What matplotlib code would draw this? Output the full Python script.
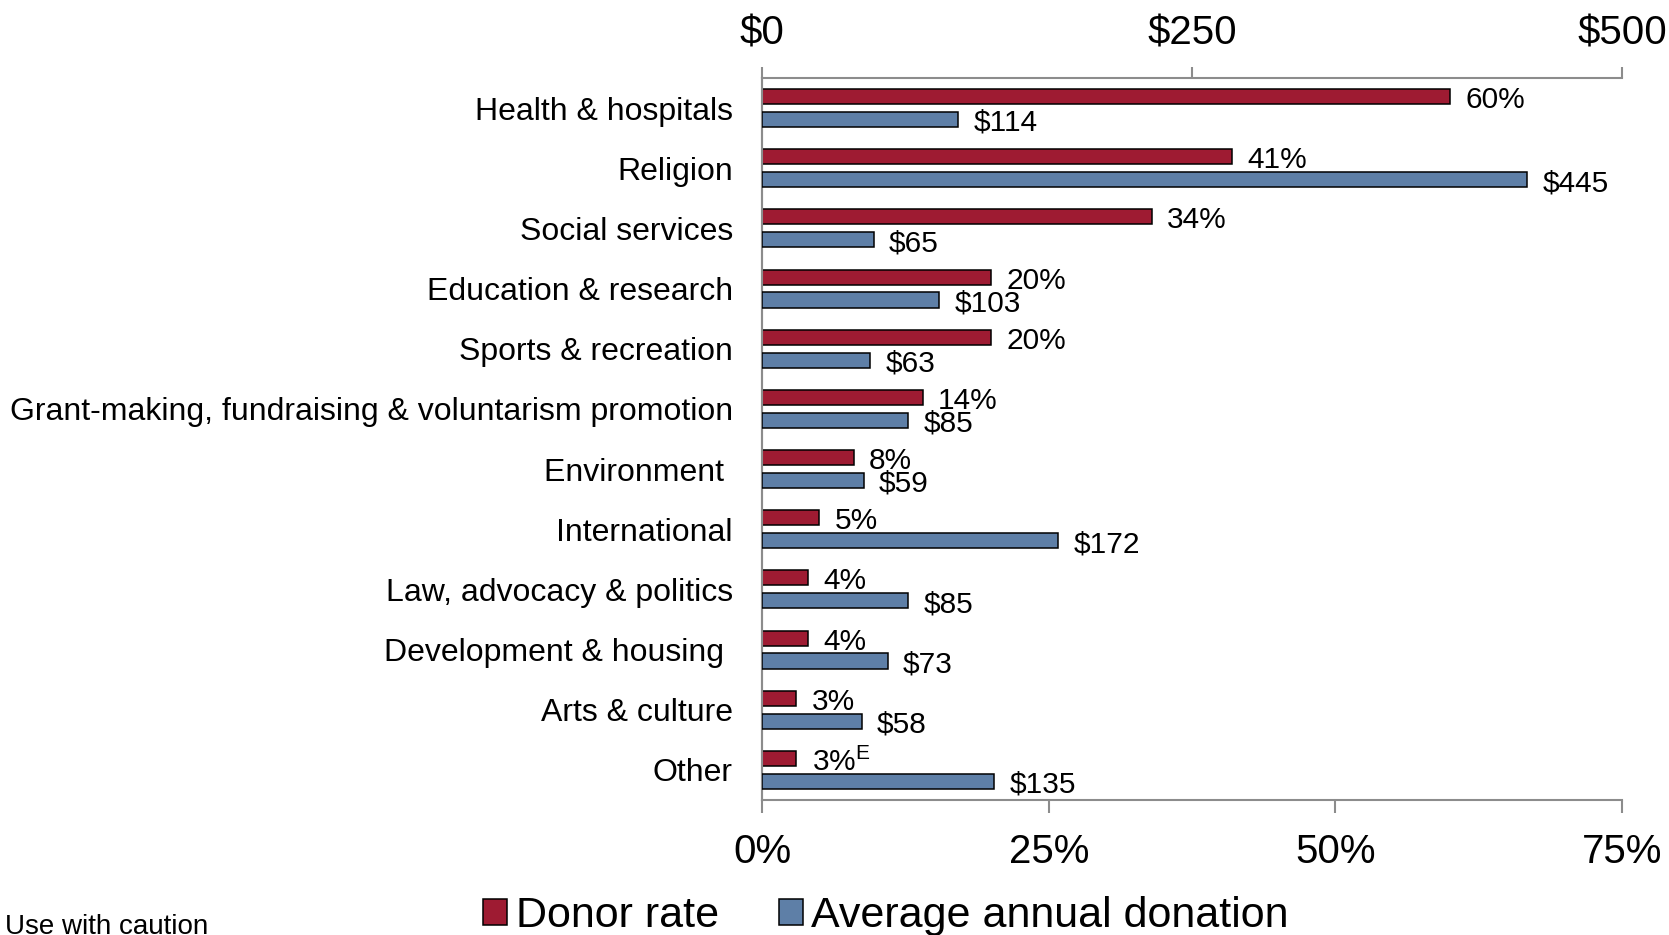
import numpy as np
import matplotlib
matplotlib.use("Agg")
import matplotlib.pyplot as plt
from matplotlib.patches import Patch

plt.rcParams['font.family'] = ['Liberation Sans', 'DejaVu Sans']
plt.rcParams['mathtext.fontset'] = 'custom'
plt.rcParams['mathtext.rm'] = 'Liberation Sans'

# Donor rate and average annual donation by cause
categories = [
    "Health & hospitals",
    "Religion",
    "Social services",
    "Education & research",
    "Sports & recreation",
    "Grant-making, fundraising & voluntarism promotion",
    "Environment ",
    "International",
    "Law, advocacy & politics",
    "Development & housing ",
    "Arts & culture",
    "Other",
]
donor_rate = [60, 41, 34, 20, 20, 14, 8, 5, 4, 4, 3, 3]
avg_donation = [114, 445, 65, 103, 63, 85, 59, 172, 85, 73, 58, 135]
rate_flags = [""] * 11 + ["E"]   # "E" = use with caution

rate_ticks = [0, 25, 50, 75]
dollar_ticks = [0, 250, 500]

RED = "#9E1B32"
BLUE = "#5E7FA7"
GREY = "#8C8C8C"

fig = plt.figure(figsize=(16.69, 9.35), dpi=100)
ax = fig.add_axes([0.4566, 0.1444, 0.9719 - 0.4566, 0.9166 - 0.1444])
ax2 = ax.twiny()

y = np.arange(len(categories))
off, h = 0.19, 0.25

ax.barh(y - off, donor_rate, height=h, color=RED, edgecolor="black", linewidth=1.1, zorder=3)
ax2.barh(y + off, avg_donation, height=h, color=BLUE, edgecolor="black", linewidth=1.1, zorder=3)

ax.set_xlim(0, 75)
ax2.set_xlim(0, 500)
ax.set_ylim(len(categories) - 0.5, -0.5)

# value labels
for yi, v, flag in zip(y, donor_rate, rate_flags):
    txt = f"{v}%" + (r"$^{\mathrm{" + flag + "}}$" if flag else "")
    ax.annotate(txt, (v, yi - off), xytext=(11, -2.5), textcoords="offset points",
                ha="left", va="center", fontsize=21.5)
for yi, v in zip(y, avg_donation):
    ax2.annotate(f"${v}", (v, yi + off), xytext=(11, -2.5), textcoords="offset points",
                 ha="left", va="center", fontsize=21.5)

ax.set_yticks(y)
ax.set_yticklabels(categories, fontsize=23)
ax.tick_params(axis="y", length=0, pad=21)

ax.set_xticks(rate_ticks)
ax.set_xticklabels([f"{t}%" for t in rate_ticks], fontsize=29)
ax.tick_params(axis="x", direction="out", length=9, width=1.5, color=GREY, pad=15)

ax2.set_xticks(dollar_ticks)
ax2.set_xticklabels([f"${t}" for t in dollar_ticks], fontsize=29)
ax2.tick_params(axis="x", direction="out", length=8, width=1.5, color=GREY, pad=10)

for a in (ax, ax2):
    for side in ("right", "top", "bottom"):
        a.spines[side].set_visible(False)
    a.spines["left"].set_color(GREY)
    a.spines["left"].set_linewidth(1.5)
ax.spines["bottom"].set_visible(True)
ax.spines["bottom"].set_color(GREY)
ax.spines["bottom"].set_linewidth(1.5)
ax2.spines["top"].set_visible(True)
ax2.spines["top"].set_color(GREY)
ax2.spines["top"].set_linewidth(1.5)

handles = [Patch(facecolor=RED, edgecolor="black", linewidth=1.1, label="Donor rate"),
           Patch(facecolor=BLUE, edgecolor="black", linewidth=1.1, label="Average annual donation")]
fig.legend(handles=handles, loc="center", bbox_to_anchor=(0.531, 0.020), ncol=2,
           frameon=False, fontsize=31, handlelength=0.55, handleheight=0.55,
           handletextpad=0.2, columnspacing=1.4)

fig.text(0.003, 0.009, "Use with caution", fontsize=20, ha="left", va="center")

fig.savefig("out.png", dpi=100)
